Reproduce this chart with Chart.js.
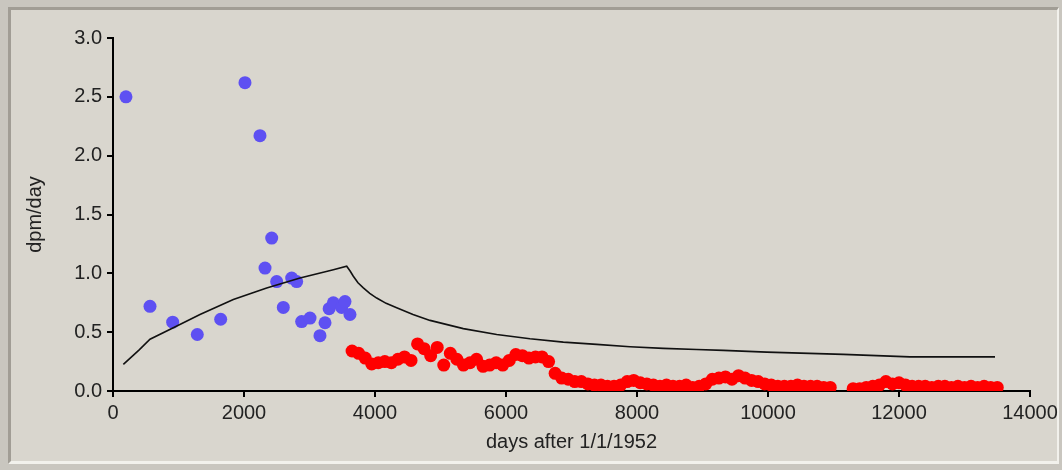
<!DOCTYPE html>
<html>
<head>
<meta charset="utf-8">
<script src="https://cdn.jsdelivr.net/npm/chart.js@4.4.0/dist/chart.umd.min.js"></script>
<style>
  html, body { margin: 0; padding: 0; width: 1062px; height: 470px; overflow: hidden; background: #c9c6bf; }
  #panel { position: absolute; left: 8px; top: 7px; width: 1046px; height: 451px;
           background: #d9d6ce; border-left: 3px solid #a19d95; border-top: 3px solid #a19d95;
           border-right: 2px solid #f2f1ec; border-bottom: 3px solid #f2f1ec; }
  #chart { position: absolute; left: 0; top: 0; }
</style>
</head>
<body>
<div id="panel"></div>
<canvas id="chart" width="1062" height="470"></canvas>
<script>
// measured points (blue)
let blueX = [198, 565, 911, 1287, 1644, 2015, 2244, 2321, 2423, 2499, 2728, 2804, 2600, 2880, 3008, 3160, 3237, 3300, 3364, 3491, 3542, 3618];
let blueY = [2.50, 0.72, 0.585, 0.48, 0.61, 2.62, 2.17, 1.045, 1.30, 0.93, 0.96, 0.93, 0.71, 0.59, 0.62, 0.47, 0.58, 0.70, 0.75, 0.71, 0.76, 0.65];

// measured points (red)
let redX = [3650, 3750, 3850, 3950, 4050, 4150, 4250, 4350, 4450, 4550, 4650, 4750, 4850, 4950, 5050, 5150, 5250, 5350, 5450, 5550,
            5650, 5750, 5850, 5950, 6050, 6150, 6250, 6350, 6450, 6550, 6650, 6750, 6850, 6950, 7050, 7150, 7250, 7350, 7450, 7550,
            7650, 7750, 7850, 7950, 8050, 8150, 8250, 8350, 8450, 8550, 8650, 8750, 8850, 8950, 9050, 9150, 9250, 9350, 9450, 9550,
            9650, 9750, 9850, 9950, 10050, 10150, 10250, 10350, 10450, 10550, 10650, 10750, 10850, 10950,
            11300, 11400, 11500, 11600, 11700, 11800, 11900, 12000, 12100, 12200, 12300, 12400, 12500, 12600, 12700, 12800, 12900,
            13000, 13100, 13200, 13300, 13400, 13500];
let redY = [0.34, 0.32, 0.28, 0.23, 0.24, 0.25, 0.24, 0.27, 0.29, 0.26, 0.40, 0.36, 0.30, 0.37, 0.22, 0.32, 0.27, 0.22, 0.24, 0.27,
            0.21, 0.22, 0.24, 0.22, 0.26, 0.31, 0.30, 0.28, 0.29, 0.29, 0.25, 0.15, 0.11, 0.10, 0.08, 0.08, 0.06, 0.05, 0.05, 0.04,
            0.04, 0.05, 0.08, 0.09, 0.07, 0.06, 0.05, 0.04, 0.05, 0.04, 0.04, 0.05, 0.03, 0.04, 0.06, 0.10, 0.11, 0.12, 0.10, 0.13,
            0.11, 0.09, 0.08, 0.06, 0.05, 0.04, 0.04, 0.04, 0.05, 0.04, 0.04, 0.04, 0.03, 0.03,
            0.02, 0.02, 0.03, 0.04, 0.05, 0.08, 0.06, 0.07, 0.05, 0.04, 0.04, 0.04, 0.03, 0.04, 0.04, 0.03, 0.04,
            0.03, 0.04, 0.03, 0.04, 0.03, 0.03];

// model curve
let modelX = [158, 400, 565, 921, 1328, 1837, 2346, 2855, 3364, 3568, 3620, 3669, 3740, 3822, 3920, 4026, 4170, 4331, 4580, 4840,
              5348, 5858, 6366, 6875, 7384, 7893, 8402, 8911, 9318, 9980, 11150, 12168, 13466];
let modelY = [0.226, 0.35, 0.44, 0.537, 0.65, 0.777, 0.876, 0.96, 1.03, 1.06, 1.02, 0.975, 0.92, 0.876, 0.83, 0.79, 0.745, 0.707, 0.65, 0.60,
              0.53, 0.48, 0.444, 0.415, 0.396, 0.376, 0.362, 0.353, 0.345, 0.33, 0.311, 0.29, 0.29];

let xTicks = [0, 2000, 4000, 6000, 8000, 10000, 12000, 14000];
let yTicks = [0.0, 0.5, 1.0, 1.5, 2.0, 2.5, 3.0];

function pts(xs, ys) {
    return xs.map((x, i) => ({ x: x, y: ys[i] }));
}

const font = { family: 'Arial, "Liberation Sans", sans-serif', size: 20 };

new Chart(document.getElementById('chart'), {
    type: 'scatter',
    data: {
        datasets: [
            {
                label: 'model',
                data: pts(modelX, modelY),
                showLine: true,
                borderColor: '#111',
                borderWidth: 1.6,
                pointRadius: 0,
                tension: 0,
                order: 0
            },
            {
                label: 'blue',
                data: pts(blueX, blueY),
                pointRadius: 6.5,
                backgroundColor: '#5e50f2',
                borderWidth: 0,
                order: 1
            },
            {
                label: 'red',
                data: pts(redX, redY),
                pointRadius: 6.5,
                backgroundColor: '#ff0000',
                borderWidth: 0,
                order: 2
            }
        ]
    },
    options: {
        responsive: false,
        animation: false,
        devicePixelRatio: 1,
        layout: { padding: { left: 0, top: 38, right: 32, bottom: 0 } },
        plugins: { legend: { display: false }, tooltip: { enabled: false } },
        scales: {
            x: {
                type: 'linear',
                min: 0,
                max: 14000,
                afterFit: s => { s.height = 79; },
                afterBuildTicks: s => { s.ticks = xTicks.map(v => ({ value: v })); },
                ticks: { color: '#222', font: font, padding: 4, maxRotation: 0, callback: v => String(v) },
                grid: { drawOnChartArea: false, color: '#000', lineWidth: 2, tickLength: 6 },
                border: { display: true, color: '#000', width: 2 },
                title: { display: true, text: 'days after 1/1/1952', color: '#222', font: font, padding: { top: 0, bottom: 16 } }
            },
            y: {
                type: 'linear',
                min: 0,
                max: 3,
                afterFit: s => { s.width = 113; },
                afterBuildTicks: s => { s.ticks = yTicks.map(v => ({ value: v })); },
                ticks: { color: '#222', font: font, padding: 5, callback: v => v.toFixed(1) },
                grid: { drawOnChartArea: false, color: '#000', lineWidth: 2, tickLength: 6 },
                border: { display: true, color: '#000', width: 2 },
                title: { display: true, text: 'dpm/day', color: '#222', font: font, padding: { top: 23, bottom: 0 } }
            }
        }
    }
});
</script>
</body>
</html>
